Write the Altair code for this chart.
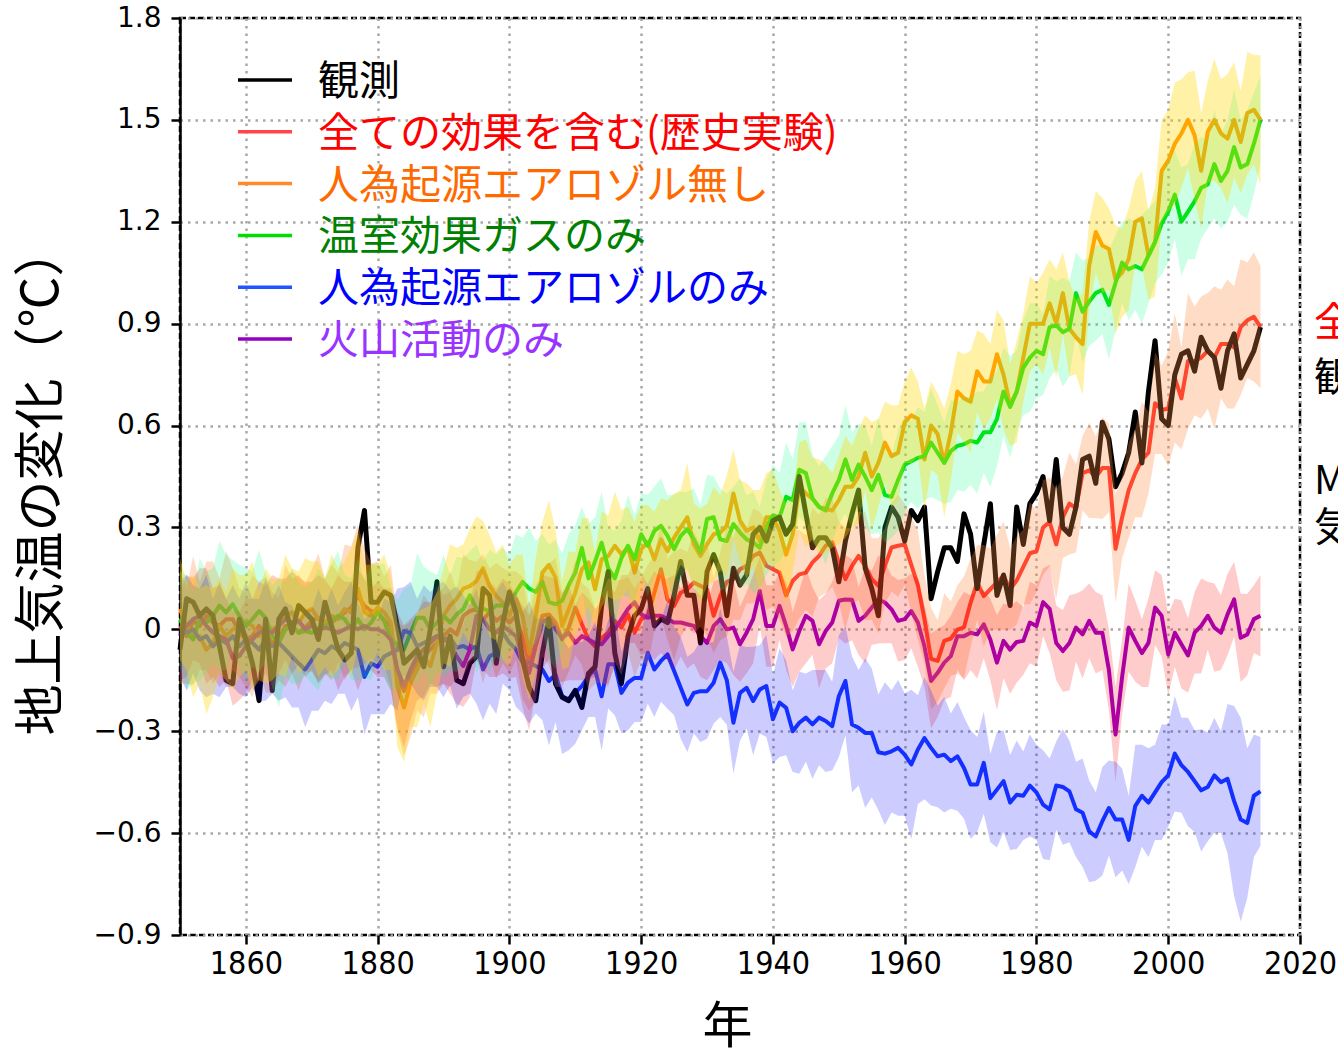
import altair as alt
import pandas as pd

# ---------------------------------------------------------------------------
# Annual global-mean surface temperature change (deg C), 1850-2014
# ---------------------------------------------------------------------------
YEARS = list(range(1850, 2015))

OBS = [
    -0.06, 0.09, 0.08, 0.04, 0.06, 0.04, -0.05, -0.15, -0.16, 0.03,
    -0.03, -0.10, -0.21, 0.03, -0.18, 0.03, 0.06, -0.01, 0.07, 0.05,
    0.03, -0.03, 0.08, 0.01, -0.06, -0.09, -0.07, 0.24, 0.35, 0.08,
    0.08, 0.11, 0.10, 0.01, -0.10, -0.08, -0.06, -0.11, 0.00, 0.14,
    -0.11, -0.02, -0.15, -0.16, -0.10, -0.08, 0.12, 0.10, -0.10, 0.02,
    0.11, 0.05, -0.09, -0.17, -0.21, -0.07, 0.03, -0.16, -0.20, -0.21,
    -0.18, -0.23, -0.13, -0.11, 0.07, 0.17, -0.07, -0.16, -0.02, 0.04,
    0.06, 0.12, 0.01, 0.03, 0.02, 0.10, 0.20, 0.10, 0.10, -0.04,
    0.17, 0.22, 0.17, 0.04, 0.18, 0.13, 0.16, 0.28, 0.30, 0.26,
    0.32, 0.33, 0.28, 0.31, 0.45, 0.34, 0.24, 0.27, 0.27, 0.24,
    0.14, 0.26, 0.34, 0.41, 0.18, 0.12, 0.04, 0.30, 0.36, 0.33,
    0.26, 0.35, 0.32, 0.36, 0.09, 0.17, 0.24, 0.24, 0.20, 0.34,
    0.28, 0.12, 0.25, 0.37, 0.10, 0.16, 0.07, 0.36, 0.25, 0.37,
    0.40, 0.45, 0.32, 0.50, 0.30, 0.28, 0.36, 0.50, 0.51, 0.43,
    0.61, 0.56, 0.42, 0.46, 0.52, 0.64, 0.49, 0.70, 0.85, 0.62,
    0.60, 0.75, 0.81, 0.82, 0.76, 0.86, 0.82, 0.80, 0.71, 0.82,
    0.87, 0.74, 0.78, 0.82, 0.89,
]

HIST = [
    0.01, -0.02, 0.025, 0.01, 0.04, 0.02, 0.01, 0.03, 0.03, -0.01,
    -0.03, -0.02, 0.01, -0.015, -0.04, -0.03, 0.01, 0.01, -0.01, 0.005,
    0.025, 0.035, 0.01, 0.02, 0.035, 0.05, 0.064, 0.098, 0.069, 0.054,
    0.05, 0.025, 0.01, -0.138, -0.182, -0.147, -0.098, -0.079, -0.059, -0.04,
    -0.02, 0.0, -0.015, 0.04, 0.054, 0.059, 0.03, 0.05, 0.025, 0.04,
    0.02, 0.04, -0.025, -0.1, -0.04, 0.04, 0.044, 0.02, -0.03, 0.005,
    0.064, 0.015, -0.03, -0.05, -0.025, -0.01, 0.025, 0.005, 0.044, -0.01,
    0.03, 0.04, 0.108, 0.177, 0.088, 0.069, 0.108, 0.118, 0.138, 0.128,
    0.118, 0.04, 0.098, 0.14, 0.148, 0.177, 0.187, 0.216, 0.226, 0.187,
    0.177, 0.167, 0.10, 0.143, 0.162, 0.167, 0.197, 0.216, 0.246, 0.256,
    0.197, 0.148, 0.187, 0.216, 0.187, 0.148, 0.128, 0.187, 0.241, 0.246,
    0.25, 0.19, 0.13, 0.03, -0.087, -0.093, -0.034, -0.027, -0.001, 0.006,
    0.078, 0.138, 0.098, 0.118, 0.138, 0.158, 0.118, 0.144, 0.184, 0.224,
    0.23, 0.30, 0.316, 0.25, 0.33, 0.37, 0.356, 0.46, 0.468, 0.448,
    0.475, 0.475, 0.237, 0.33, 0.41, 0.46, 0.50, 0.52, 0.666, 0.646,
    0.65, 0.74, 0.68, 0.79, 0.79, 0.80, 0.82, 0.80, 0.84, 0.84,
    0.83, 0.89, 0.91, 0.92, 0.89,
]

NOAER = [
    0.06, 0.01, -0.02, -0.02, -0.06, -0.04, 0.01, -0.02, 0.0, 0.01,
    0.02, 0.01, -0.02, 0.01, 0.0, 0.01, 0.04, 0.05, 0.02, 0.05,
    0.06, 0.03, 0.02, 0.04, 0.03, 0.06, 0.05, 0.12, 0.05, 0.04,
    0.064, 0.05, 0.02, -0.167, -0.23, -0.157, -0.118, -0.079, -0.108, -0.04,
    0.04, 0.07, 0.09, 0.12, 0.127, 0.142, 0.18, 0.127, 0.098, 0.079,
    0.04, 0.089, 0.04, -0.07, 0.04, 0.167, 0.19, 0.152, 0.01, 0.059,
    0.108, 0.177, 0.197, 0.118, 0.206, 0.216, 0.246, 0.221, 0.241, 0.167,
    0.236, 0.256, 0.206, 0.265, 0.23, 0.27, 0.30, 0.33, 0.25, 0.216,
    0.25, 0.28, 0.285, 0.305, 0.40, 0.32, 0.29, 0.30, 0.26, 0.33,
    0.33, 0.29, 0.22, 0.28, 0.42, 0.40, 0.385, 0.36, 0.355, 0.35,
    0.38, 0.42, 0.42, 0.45, 0.52, 0.45, 0.49, 0.55, 0.51, 0.52,
    0.61, 0.63, 0.62, 0.50, 0.60, 0.575, 0.49, 0.58, 0.70, 0.68,
    0.67, 0.76, 0.73, 0.73, 0.81, 0.75, 0.66, 0.70, 0.80, 0.90,
    0.90, 0.90, 0.96, 0.90, 0.99, 0.885, 0.86, 0.84, 1.07, 1.17,
    1.13, 1.12, 1.03, 1.05, 1.09, 1.20, 1.21, 1.10, 1.14, 1.35,
    1.38, 1.43, 1.46, 1.50, 1.455, 1.35, 1.465, 1.50, 1.46, 1.445,
    1.50, 1.435, 1.52, 1.53, 1.50,
]

GHG = [
    0.03, -0.01, -0.03, 0.03, 0.02, 0.04, 0.07, 0.05, 0.074, 0.04,
    0.01, 0.03, 0.054, 0.034, -0.02, -0.04, 0.0, 0.01, -0.01, -0.005,
    -0.01, 0.0, 0.01, 0.025, 0.04, 0.03, 0.0, 0.03, 0.0, 0.02,
    0.05, 0.025, -0.03, -0.044, -0.06, -0.01, 0.034, 0.034, 0.0, 0.02,
    0.04, 0.02, 0.044, 0.06, 0.10, 0.06, 0.06, 0.054, 0.07, 0.07,
    0.08, 0.11, 0.14, 0.12, 0.11, 0.14, 0.08, 0.074, 0.084, 0.13,
    0.167, 0.24, 0.15, 0.20, 0.255, 0.18, 0.15, 0.21, 0.246, 0.206,
    0.28, 0.246, 0.29, 0.305, 0.275, 0.236, 0.275, 0.295, 0.265, 0.226,
    0.325, 0.33, 0.265, 0.26, 0.31, 0.285, 0.265, 0.256, 0.24, 0.30,
    0.335, 0.33, 0.39, 0.38, 0.47, 0.46, 0.385, 0.36, 0.35, 0.40,
    0.44, 0.50, 0.44, 0.485, 0.45, 0.41, 0.455, 0.395, 0.39, 0.44,
    0.485, 0.495, 0.505, 0.51, 0.55, 0.52, 0.49, 0.525, 0.54, 0.545,
    0.555, 0.55, 0.58, 0.58, 0.62, 0.70, 0.655, 0.70, 0.77, 0.80,
    0.82, 0.81, 0.89, 0.895, 0.875, 0.885, 0.99, 0.935, 0.965, 0.99,
    1.0, 0.955, 1.02, 1.08, 1.06, 1.07, 1.06, 1.1, 1.14, 1.195,
    1.23, 1.28, 1.2, 1.23, 1.26, 1.30, 1.31, 1.37, 1.32, 1.35,
    1.42, 1.36, 1.37, 1.43, 1.5,
]

AER = [
    0.0, -0.01, 0.0, -0.03, -0.02, -0.05, -0.03, -0.04, -0.02, -0.05,
    -0.03, -0.04, -0.06, -0.03, -0.05, -0.04, -0.06, -0.08, -0.10, -0.118,
    -0.09, -0.06, -0.07, -0.05, -0.06, -0.04, -0.05, -0.06, -0.14, -0.10,
    -0.11, -0.08, -0.07, -0.06, -0.005, -0.01, -0.05, -0.04, -0.03, -0.02,
    -0.03, -0.025, -0.054, -0.049, -0.059, -0.049, -0.118, -0.079, -0.069, -0.01,
    -0.039, -0.059, -0.098, -0.098, -0.108, -0.118, -0.152, -0.133, -0.197, -0.206,
    -0.187, -0.167, -0.138, -0.118, -0.197, -0.103, -0.103, -0.187, -0.157, -0.143,
    -0.143, -0.069, -0.118, -0.093, -0.074, -0.123, -0.172, -0.221, -0.187, -0.182,
    -0.182, -0.157, -0.098, -0.15, -0.275, -0.187, -0.172, -0.211, -0.177, -0.167,
    -0.265, -0.216, -0.231, -0.30, -0.275, -0.26, -0.28, -0.26, -0.27, -0.285,
    -0.197, -0.152, -0.28, -0.29, -0.305, -0.305, -0.362, -0.366, -0.359, -0.349,
    -0.369, -0.398, -0.354, -0.32, -0.349, -0.374, -0.369, -0.388, -0.374, -0.408,
    -0.457, -0.457, -0.393, -0.497, -0.472, -0.447, -0.51, -0.487, -0.49, -0.46,
    -0.48, -0.516, -0.53, -0.46, -0.464, -0.477, -0.53, -0.54, -0.595, -0.61,
    -0.565, -0.526, -0.56, -0.56, -0.62, -0.52, -0.49, -0.51, -0.48, -0.45,
    -0.43, -0.366, -0.40, -0.42, -0.447, -0.474, -0.464, -0.43, -0.45, -0.44,
    -0.506, -0.56, -0.57, -0.49, -0.477,
]

VOLC = [
    -0.02, 0.01, 0.03, 0.04, 0.01, -0.01, -0.02, -0.03, -0.085, -0.079,
    -0.049, -0.03, -0.01, 0.0, -0.01, 0.01, 0.03, 0.02, 0.025, 0.0,
    0.01, 0.0, 0.005, 0.0, -0.01, 0.0, 0.01, 0.0, 0.01, 0.0,
    0.0, -0.01, -0.03, -0.118, -0.167, -0.118, -0.079, -0.059, -0.04, -0.02,
    -0.03, -0.04, -0.08, -0.108, -0.06, 0.04, 0.03, 0.0, -0.01, 0.01,
    -0.005, -0.02, -0.08, -0.128, -0.05, 0.02, 0.034, 0.0, -0.025, -0.01,
    -0.04, -0.02, -0.03, -0.04, -0.044, -0.02, 0.0, 0.03, 0.06, 0.08,
    0.044, 0.034, 0.04, 0.04, 0.03, 0.02, 0.02, 0.015, 0.01, -0.02,
    -0.04, 0.01, 0.03, 0.0, 0.005, -0.044, -0.01, 0.03, 0.113, 0.01,
    0.01, 0.069, 0.01, -0.059, -0.005, 0.04, 0.025, -0.044, -0.005, 0.02,
    0.084, 0.088, 0.087, 0.025, 0.04, 0.064, 0.088, 0.079, 0.059, 0.025,
    0.03, 0.054, 0.02, -0.05, -0.152, -0.128, -0.098, -0.079, -0.02, -0.02,
    -0.01, -0.015, 0.015, -0.03, -0.098, -0.034, -0.06, -0.037, -0.034, 0.02,
    0.01, 0.08, 0.06, -0.04, -0.064, -0.04, 0.005, -0.015, 0.025, -0.01,
    -0.01, -0.12, -0.31, -0.14, 0.005, -0.034, -0.07, -0.04, 0.064, 0.04,
    -0.074, -0.01, -0.044, -0.077, -0.01, 0.01, 0.04, 0.005, -0.01, 0.044,
    0.088, -0.025, -0.015, 0.03, 0.04,
]

# Ensemble spread (half width of the shaded range), in hundredths of a degree
HIST_SPREAD = [
    17, 14, 19, 13, 16, 18, 14, 20, 15, 13,
    14, 18, 13, 17, 15, 12, 18, 14, 17, 13,
    15, 19, 14, 17, 13, 20, 18, 21, 17, 14,
    15, 13, 18, 16, 19, 17, 14, 18, 13, 15,
    14, 17, 13, 18, 15, 14, 19, 13, 17, 14,
    15, 13, 18, 14, 17, 12, 15, 19, 14, 13,
    14, 12, 15, 11, 13, 16, 12, 14, 11, 13,
    12, 15, 11, 14, 12, 16, 13, 11, 15, 12,
    14, 11, 13, 16, 12, 15, 11, 14, 12, 13,
    11, 14, 12, 15, 13, 11, 16, 12, 14, 13,
    12, 15, 11, 13, 16, 12, 14, 11, 13, 15,
    12, 14, 16, 13, 15, 12, 14, 11, 13, 15,
    13, 11, 15, 12, 14, 16, 12, 13, 11, 15,
    12, 14, 13, 16, 12, 15, 13, 11, 14, 12,
    15, 13, 16, 12, 14, 13, 17, 12, 15, 13,
    17, 19, 15, 20, 16, 18, 17, 21, 16, 19,
    18, 20, 17, 19, 18,
]
NOAER_SPREAD = [
    15, 13, 18, 14, 19, 16, 14, 13, 18, 15,
    14, 19, 13, 17, 15, 14, 18, 13, 15, 16,
    14, 17, 13, 18, 15, 14, 19, 17, 14, 15,
    13, 17, 14, 18, 16, 13, 17, 14, 18, 15,
    14, 18, 15, 13, 17, 19, 14, 15, 13, 17,
    15, 13, 18, 14, 17, 15, 19, 14, 13, 17,
    12, 15, 13, 11, 14, 12, 16, 13, 12, 15,
    13, 11, 14, 12, 15, 13, 11, 16, 12, 14,
    12, 14, 11, 15, 13, 12, 14, 11, 15, 13,
    14, 12, 15, 11, 13, 16, 12, 14, 13, 11,
    13, 15, 12, 14, 11, 16, 13, 12, 15, 14,
    12, 14, 11, 15, 13, 12, 16, 14, 12, 13,
    15, 12, 14, 11, 13, 16, 12, 15, 13, 14,
    12, 15, 13, 16, 12, 14, 11, 15, 13, 12,
    14, 12, 16, 13, 15, 12, 14, 13, 16, 15,
    15, 18, 16, 14, 19, 17, 15, 18, 16, 19,
    17, 15, 18, 16, 19,
]
GHG_SPREAD = [
    14, 17, 13, 18, 15, 14, 19, 17, 13, 15,
    17, 14, 18, 13, 15, 19, 14, 17, 15, 13,
    15, 18, 14, 17, 19, 13, 15, 18, 14, 17,
    14, 17, 15, 13, 18, 14, 19, 15, 17, 14,
    18, 14, 17, 15, 13, 19, 14, 18, 15, 17,
    14, 17, 13, 18, 15, 14, 17, 19, 14, 15,
    14, 12, 16, 13, 15, 12, 14, 11, 15, 13,
    12, 15, 13, 14, 12, 16, 13, 11, 15, 14,
    13, 12, 15, 14, 11, 16, 13, 15, 12, 14,
    15, 13, 16, 12, 14, 15, 13, 12, 16, 14,
    13, 16, 14, 12, 15, 13, 17, 14, 12, 15,
    14, 12, 15, 13, 16, 14, 12, 15, 13, 14,
    13, 15, 12, 16, 14, 13, 15, 12, 14, 16,
    14, 12, 15, 13, 16, 14, 12, 15, 13, 14,
    13, 16, 14, 12, 15, 13, 16, 14, 12, 15,
    15, 13, 16, 14, 17, 15, 13, 16, 14, 15,
    17, 14, 16, 15, 13,
]
AER_SPREAD = [
    14, 17, 13, 15, 18, 14, 17, 13, 15, 14,
    17, 13, 15, 18, 14, 17, 14, 15, 13, 17,
    15, 18, 14, 17, 13, 15, 19, 14, 17, 15,
    14, 17, 15, 18, 13, 15, 14, 17, 14, 15,
    17, 14, 18, 15, 13, 17, 15, 14, 18, 15,
    14, 17, 15, 18, 14, 15, 19, 14, 17, 15,
    15, 13, 12, 14, 16, 13, 15, 12, 14, 13,
    13, 15, 14, 12, 16, 13, 15, 14, 12, 15,
    14, 12, 16, 13, 15, 14, 12, 16, 13, 15,
    13, 16, 14, 12, 15, 13, 16, 14, 15, 13,
    18, 16, 20, 17, 22, 19, 17, 21, 18, 20,
    18, 22, 16, 18, 17, 15, 17, 14, 16, 15,
    16, 14, 15, 13, 17, 15, 14, 16, 13, 15,
    14, 16, 15, 13, 17, 15, 14, 16, 15, 13,
    16, 14, 17, 15, 13, 18, 15, 16, 14, 17,
    15, 17, 14, 16, 15, 18, 16, 17, 15, 22,
    28, 30, 22, 18, 16,
]
VOLC_SPREAD = [
    13, 15, 12, 14, 17, 13, 15, 12, 14, 13,
    14, 12, 15, 13, 17, 14, 12, 15, 13, 14,
    13, 16, 14, 12, 17, 14, 13, 18, 14, 12,
    14, 13, 15, 17, 18, 15, 13, 14, 12, 15,
    13, 15, 14, 12, 14, 13, 15, 14, 13, 14,
    14, 12, 15, 17, 13, 14, 12, 15, 13, 14,
    11, 13, 12, 10, 12, 14, 11, 13, 10, 12,
    12, 10, 13, 11, 12, 14, 10, 13, 11, 12,
    11, 13, 12, 10, 14, 11, 12, 13, 10, 12,
    12, 10, 13, 11, 12, 14, 10, 13, 11, 12,
    11, 13, 12, 10, 14, 11, 13, 12, 10, 12,
    12, 11, 13, 12, 14, 13, 11, 12, 10, 13,
    11, 13, 10, 12, 14, 11, 13, 12, 10, 12,
    12, 10, 13, 11, 12, 14, 10, 13, 11, 12,
    11, 12, 14, 11, 13, 12, 10, 13, 11, 12,
    12, 10, 13, 11, 12, 14, 10, 13, 11, 12,
    11, 13, 12, 10, 12,
]

LEGEND_LABELS = [
    "観測",
    "全ての効果を含む(歴史実験)",
    "人為起源エアロゾル無し",
    "温室効果ガスのみ",
    "人為起源エアロゾルのみ",
    "火山活動のみ",
]
SIDE_LABELS = ["全ての効果を含む", "観測", "MIROC5", "気象研究所"]

X_TICKS = [1860, 1880, 1900, 1920, 1940, 1960, 1980, 2000, 2020]
Y_TICKS = [-0.9, -0.6, -0.3, 0, 0.3, 0.6, 0.9, 1.2, 1.5, 1.8]

for arr in (OBS, HIST, NOAER, GHG, AER, VOLC, HIST_SPREAD, NOAER_SPREAD,
            GHG_SPREAD, AER_SPREAD, VOLC_SPREAD):
    assert len(arr) == len(YEARS)


def frame(values, spread=None):
    df = pd.DataFrame({"year": YEARS, "value": values})
    if spread is not None:
        half = pd.Series(spread) / 100.0
        df["lo"] = df["value"] - half
        df["hi"] = df["value"] + half
    return df


CJK = "Noto Sans CJK JP"

x_enc = alt.X(
    "year:Q",
    scale=alt.Scale(domain=[1850, 2020], nice=False, zero=False),
    axis=alt.Axis(
        values=X_TICKS, format="d", title="年", domain=False,
        tickColor="black", tickWidth=2.5, tickSize=9,
        labelFont="DejaVu Sans Condensed", labelFontSize=32,
        labelColor="black", labelPadding=4,
        labelOverlap=False, labelFlush=False,
        titleFont=CJK, titleFontSize=50, titleFontWeight="normal",
        titleColor="black", titleX=547, titleY=92,
        titleAlign="center", titleBaseline="middle",
    ),
)
y_axis = alt.Axis(
    values=Y_TICKS,
    labelExpr="datum.value == 0 ? '0' : replace(format(datum.value, '.1f'), '-', '−')",
    title="地上気温の変化（℃）",
    domain=True, domainColor="black", domainWidth=2.5,
    tickColor="black", tickWidth=2.5, tickSize=9,
    labelFont="DejaVu Sans", labelFontSize=28, labelColor="black",
    labelPadding=10, labelOverlap=False, labelFlush=False,
    titleFont=CJK, titleFontSize=51, titleFontWeight="normal",
    titleColor="black", titleX=-138, titleY=462, titleAngle=270,
    titleAlign="center", titleBaseline="middle",
)
y_scale = alt.Scale(domain=[-0.9, 1.8], nice=False, zero=False)


def line(values, color, width):
    return alt.Chart(frame(values)).mark_line(
        color=color, strokeWidth=width, strokeJoin="round"
    ).encode(x=x_enc, y=alt.Y("value:Q", scale=y_scale, axis=y_axis))


def band(values, spread, color, opacity):
    return alt.Chart(frame(values, spread)).mark_area(
        color=color, opacity=opacity
    ).encode(
        x=x_enc,
        y=alt.Y("lo:Q", scale=y_scale, axis=y_axis),
        y2="hi:Q",
    )


# model means and observations, with the ensemble ranges laid over them
layers = [
    line(HIST, "#ff2a2a", 4),
    line(NOAER, "#ff8c00", 4),
    line(GHG, "#00dd00", 4),
    line(AER, "#1a3cff", 4),
    line(VOLC, "#9900cc", 4),
    line(OBS, "#000000", 5),
    band(HIST, HIST_SPREAD, "#ff8c40", 0.3),
    band(VOLC, VOLC_SPREAD, "#ff0000", 0.2),
    band(AER, AER_SPREAD, "#0000ff", 0.2),
    band(GHG, GHG_SPREAD, "#00ff7f", 0.2),
    band(NOAER, NOAER_SPREAD, "#ffd700", 0.35),
]

# legend: short line swatch plus coloured label per row
SWATCH_COLORS = ["#000000", "#ff4545", "#ff8a2a", "#00dd00", "#2255ff", "#9400c0"]
TEXT_COLORS = ["#000000", "#ff0000", "#ff6a00", "#008000", "#0000ff", "#9933ff"]
for i, (label, sc, tc) in enumerate(zip(LEGEND_LABELS, SWATCH_COLORS, TEXT_COLORS)):
    row_y = 62 + i * 51.8
    src = pd.DataFrame({"label": [label]})
    layers.append(
        alt.Chart(src).mark_rule(color=sc, strokeWidth=3.5).encode(
            x=alt.value(58), x2=alt.value(112), y=alt.value(row_y)
        )
    )
    layers.append(
        alt.Chart(src).mark_text(
            align="left", baseline="middle", font=CJK, fontSize=41, color=tc
        ).encode(text="label:N", x=alt.value(138), y=alt.value(row_y + 3))
    )

# labels running off the right-hand edge
SIDE_COLORS = ["#ff0000", "#000000", "#000000", "#000000"]
SIDE_Y = [306, 361, 464, 511]
for label, color, yy in zip(SIDE_LABELS, SIDE_COLORS, SIDE_Y):
    layers.append(
        alt.Chart(pd.DataFrame({"label": [label]})).mark_text(
            align="left", baseline="middle", font=CJK, fontSize=40, color=color
        ).encode(text="label:N", x=alt.value(1134), y=alt.value(yy))
    )

chart = (
    alt.layer(*layers)
    .properties(
        width=1120,
        height=917,
        autosize=alt.AutoSizeParams(type="none"),
        padding={"left": 180, "top": 18, "right": 38, "bottom": 116},
        background="white",
    )
    .configure_axis(gridColor="#a8a8a8", gridDash=[2.5, 5], gridWidth=2.5)
    .configure_view(stroke="black", strokeWidth=2.5, strokeDash=[6, 3])
)

chart.save("out.html", embed_options={"renderer": "svg", "actions": False})
